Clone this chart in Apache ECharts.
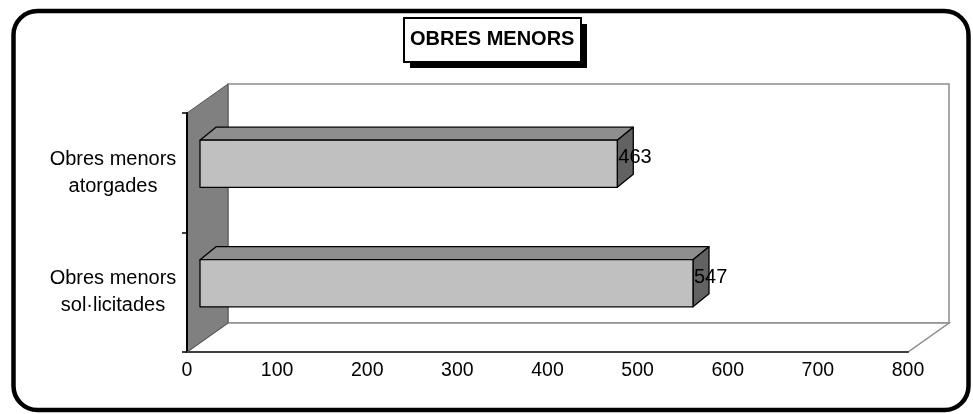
<!DOCTYPE html>
<html>
<head>
<meta charset="utf-8">
<script src="https://cdn.jsdelivr.net/npm/echarts@6/dist/echarts.min.js"></script>
<style>
html,body{margin:0;padding:0;background:#fff;}
#chart{width:973px;height:414px;}
</style>
</head>
<body>
<div id="chart"></div>
<script>
// ---- data ----
const titleText = 'OBRES MENORS';
const categories = ['Obres menors atorgades', 'Obres menors sol·licitades'];
const values = [463, 547];
const xMin = 0;
const xMax = 800;
const xStep = 100;

// ---- styling ----
const FONT = '"Liberation Sans", Arial, sans-serif';
const WALL_DX = 41, WALL_DY = -29;      // depth of the 3D box
const BAR_OX = 13, BAR_OY = -9;         // bar front face depth offset
const BAR_DX = 16, BAR_DY = -13;        // bar depth

const chart = echarts.init(document.getElementById('chart'), null, {renderer: 'canvas'});

function renderWalls(params, api) {
  const c = params.coordSys;
  const x = c.x, y = c.y, w = c.width, h = c.height;
  return {
    type: 'group',
    children: [
      { type: 'rect', shape: {x: x + WALL_DX, y: y + WALL_DY, width: w, height: h},
        style: {fill: '#fff', stroke: '#8c8c8c', lineWidth: 1.5} },
      { type: 'polygon', shape: {points: [[x, y + h], [x + w, y + h], [x + w + WALL_DX, y + h + WALL_DY], [x + WALL_DX, y + h + WALL_DY]]},
        style: {fill: '#fff', stroke: '#8c8c8c', lineWidth: 1.5} },
      { type: 'polygon', shape: {points: [[x, y], [x + WALL_DX, y + WALL_DY], [x + WALL_DX, y + h + WALL_DY], [x, y + h]]},
        style: {fill: '#808080', stroke: '#555', lineWidth: 1} }
    ]
  };
}

function renderBar(params, api) {
  const i = api.value(0);
  const v = api.value(1);
  const p0 = api.coord([0, i]);
  const p1 = api.coord([v, i]);
  const band = api.size([0, 1])[1];
  const hh = band * 0.395;
  const x0 = p0[0] + BAR_OX, x1 = p1[0] + BAR_OX;
  const yc = p0[1] + BAR_OY;
  const yt = yc - hh / 2, yb = yc + hh / 2;
  const st = {stroke: '#000', lineWidth: 1.3, lineJoin: 'round'};
  return {
    type: 'group',
    children: [
      { type: 'polygon', shape: {points: [[x0, yt], [x1, yt], [x1 + BAR_DX, yt + BAR_DY], [x0 + BAR_DX, yt + BAR_DY]]},
        style: Object.assign({fill: '#8e8e8e'}, st) },
      { type: 'polygon', shape: {points: [[x1, yt], [x1 + BAR_DX, yt + BAR_DY], [x1 + BAR_DX, yb + BAR_DY], [x1, yb]]},
        style: Object.assign({fill: '#626262'}, st) },
      { type: 'rect', shape: {x: x0, y: yt, width: x1 - x0, height: hh},
        style: Object.assign({fill: '#c0c0c0'}, st) },
      { type: 'text', z2: 10,
        style: {text: String(v), x: x1 + 1, y: yc - 6, fill: '#000',
                font: '20px ' + FONT, align: 'left', verticalAlign: 'middle'} }
    ]
  };
}

const option = {
  backgroundColor: '#fff',
  animation: false,
  title: {
    text: titleText,
    left: 404,
    top: 18,
    padding: [11, 6],
    textStyle: {fontFamily: FONT, fontSize: 20, fontWeight: 'bold', color: '#000'},
    z: 20
  },
  graphic: [
    { type: 'rect', shape: {x: 13.5, y: 11, width: 955, height: 399, r: 24},
      style: {fill: 'none', stroke: '#000', lineWidth: 4.5}, z: 0 },
    { type: 'rect', shape: {x: 410, y: 24, width: 177, height: 44},
      style: {fill: '#000'}, z: 5 },
    { type: 'rect', shape: {x: 404, y: 18, width: 177, height: 44},
      style: {fill: '#fff', stroke: '#000', lineWidth: 2}, z: 6 }
  ],
  grid: {left: 187, top: 113, width: 721, height: 239, containLabel: false},
  xAxis: {
    type: 'value',
    min: xMin, max: xMax, interval: xStep,
    z: 10,
    axisLine: {show: true, lineStyle: {color: '#404040', width: 2}},
    axisTick: {show: false},
    splitLine: {show: false},
    axisLabel: {margin: 9, color: '#000', fontFamily: FONT, fontSize: 19.5}
  },
  yAxis: {
    type: 'category',
    data: categories,
    inverse: true,
    z: 10,
    axisLine: {show: true, lineStyle: {color: '#000', width: 2}},
    axisTick: {show: true, length: 5, lineStyle: {color: '#000', width: 1.5}},
    splitLine: {show: false},
    axisLabel: {
      align: 'center', margin: 74, lineHeight: 27,
      color: '#000', fontFamily: FONT, fontSize: 20,
      formatter: function (v) { return v.replace('menors ', 'menors\n'); }
    }
  },
  series: [
    { type: 'custom', name: 'walls', z: 1, silent: true,
      renderItem: renderWalls, data: [[0, 0]], encode: {x: 1, y: 0} },
    { type: 'custom', name: 'Obres menors', z: 3,
      renderItem: renderBar,
      data: values.map(function (v, i) { return [i, v]; }),
      encode: {x: 1, y: 0} }
  ]
};
chart.setOption(option);
</script>
</body>
</html>
